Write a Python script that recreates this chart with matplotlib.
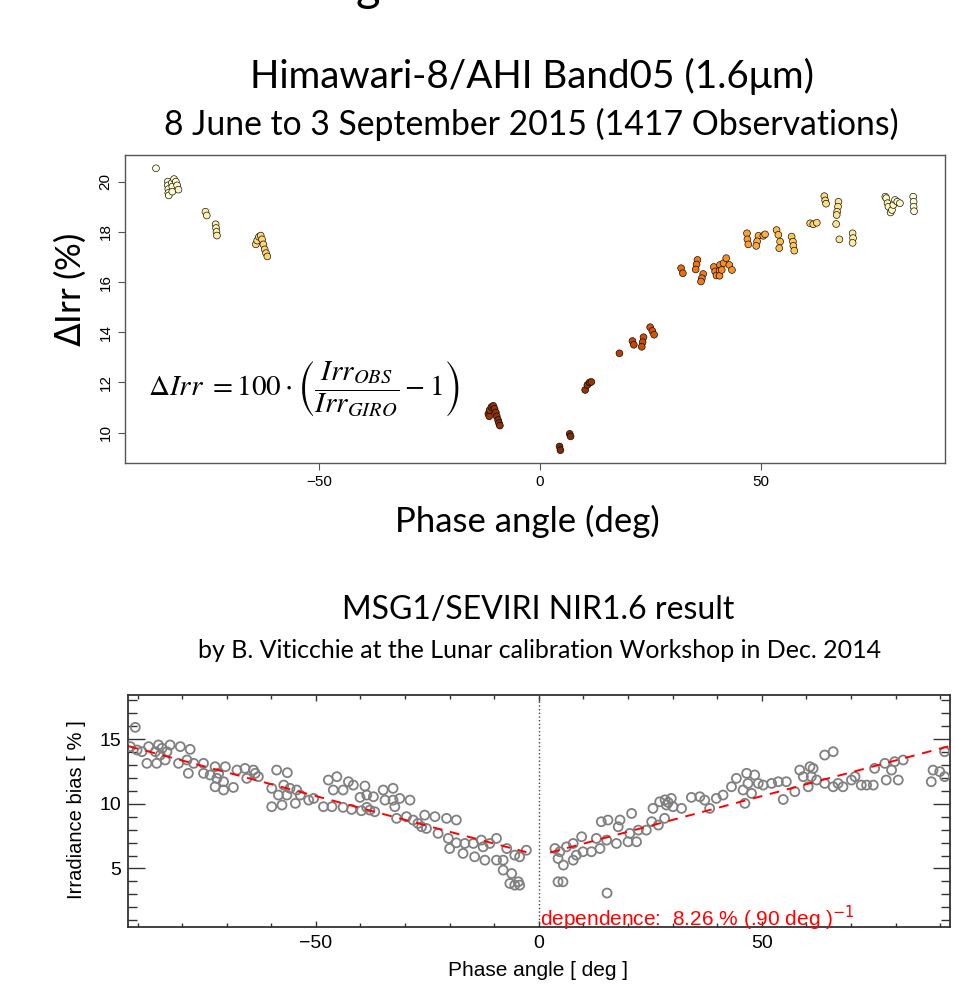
import numpy as np
import matplotlib
matplotlib.use("Agg")
import matplotlib.pyplot as plt
from matplotlib.ticker import MultipleLocator, FixedLocator

# ---- top panel: Himawari-8/AHI band05, phase angle vs delta irradiance ----
top_phase = [
    -86.9,
    -84.2, -84.2, -84.1, -84.1, -84.0,
    -83.3, -83.2, -83.2,
    -82.8, -82.4, -82.1, -81.8,
    -75.7, -75.4,
    -73.4, -73.3, -73.2, -73.1,
    -64.3, -64.0, -63.6, -63.2, -62.9, -62.6, -62.3, -62.0, -61.7,
    -11.7, -11.5, -11.4, -11.0, -10.6, -10.3, -10.0, -9.8, -9.5, -9.3, -9.1,
    4.4, 4.6, 6.7, 6.9,
    10.2, 10.7, 11.2, 11.6,
    17.95,
    20.9, 21.2,
    23.4, 23.2, 23.0,
    24.9, 25.4, 25.8,
    31.9, 32.3,
    35.6, 35.4, 35.2,
    36.9, 36.6, 36.4,
    39.3, 39.6, 39.9, 40.7, 40.6, 40.6, 41.1, 41.5, 42.1, 42.8, 43.4,
    46.8, 46.9, 47.1,
    49.4, 49.1, 48.9,
    50.5, 50.9,
    53.5, 53.9, 54.3, 54.1,
    56.9, 57.2, 57.3, 57.5,
    61.1, 61.8, 62.6,
    64.3, 64.5, 64.7,
    67.5, 67.4, 67.2, 67.1,
    66.97, 67.7,
    70.7, 70.8, 70.7,
    78.1, 78.3, 78.6, 78.8, 79.3, 79.6, 79.9, 80.3, 80.8, 81.4,
    84.4, 84.5, 84.5, 84.6,
]
top_dirr = [
    20.53,
    20.0, 19.85, 19.7, 19.55, 19.45,
    19.95, 19.8, 19.6,
    20.1, 20.0, 19.85, 19.68,
    18.8, 18.65,
    18.3, 18.15, 18.0, 17.85,
    17.5, 17.65, 17.8, 17.85, 17.7, 17.5, 17.3, 17.15, 17.02,
    10.75, 10.65, 10.9, 11.02, 11.07, 10.95, 10.8, 10.65, 10.5, 10.38, 10.28,
    9.45, 9.3, 9.95, 9.85,
    11.7, 11.9, 12.0, 12.02,
    13.16,
    13.65, 13.5,
    13.8, 13.6, 13.42,
    14.2, 14.05, 13.9,
    16.55, 16.35,
    16.88, 16.7, 16.5,
    16.32, 16.15, 16.02,
    16.6, 16.42, 16.26, 16.68, 16.45, 16.25, 16.48, 16.75, 16.95, 16.68, 16.48,
    17.94, 17.7, 17.5,
    17.84, 17.62, 17.44,
    17.84, 17.9,
    18.07, 17.88, 17.61, 17.35,
    17.81, 17.61, 17.44, 17.25,
    18.34, 18.3, 18.36,
    19.42, 19.25, 19.12,
    19.2, 19.0, 18.8, 18.67,
    18.31, 17.7,
    17.94, 17.75, 17.56,
    19.4, 19.34, 19.14, 19.0, 18.77, 18.87, 19.07, 19.27, 19.2, 19.14,
    19.4, 19.2, 19.0, 18.82,
]

# ---- bottom panel: MSG1/SEVIRI NIR1.6 irradiance bias ----
bot_phase = [
    -90.5, -91.6, -90.1, -89.0, -87.5, -87.9, -86.0, -85.3, -84.5, -84.9,
    -85.7, -83.8, -83.4, -82.7, -80.4, -78.2, -80.8, -78.9, -78.6, -77.4,
    -75.2, -75.2, -72.6, -70.3, -73.7, -72.2, -70.7, -72.6, -70.7, -68.5,
    -71.8, -67.7, -65.9, -65.5, -63.6, -62.9, -64.0, -58.8, -56.4, -59.9,
    -58.4, -57.2, -55.8, -56.5, -54.3, -53.5, -59.9, -57.6, -54.6, -51.6,
    -50.5, -48.3, -46.4, -47.2, -46.1, -45.3, -43.9, -42.7, -41.6, -39.0,
    -40.1, -38.6, -37.1, -34.9, -32.7, -34.5, -32.7, -31.2, -28.9, -32.3,
    -43.9, -42.0, -39.8, -37.9, -36.8, -38.6, -31.9, -29.7, -28.2, -27.1,
    -25.6, -25.2, -26.3, -23.3, -20.7, -18.5, -22.6, -20.3, -18.5, -20.0,
    -16.6, -17.0, -14.7, -12.9, -12.5, -11.0, -9.5, -14.4, -12.1, -9.5,
    -8.0, -7.2, -5.4, -4.3, -2.8, -8.0, -6.1, -6.5, -4.6, -4.3, -5.4,
    4.3, 5.4, 15.3, 3.6, 4.7, 6.2, 7.7, 9.6, 4.3, 5.5,
    7.7, 8.4, 9.9, 11.8, 13.7, 12.9, 15.2, 14.0, 15.5, 18.2,
    20.8, 17.8, 17.4, 20.0, 21.9, 20.4, 22.3, 24.1, 25.3, 26.8,
    28.2, 25.6, 27.1, 28.6, 29.7, 30.1, 32.0, 29.0, 28.3, 34.2,
    36.1, 37.2, 38.3, 39.8, 41.3, 43.2, 44.3, 45.8, 46.2, 46.6,
    46.9, 48.4, 49.2, 47.7, 50.3, 52.2, 53.7, 55.5, 54.8, 57.4,
    58.5, 59.3, 60.8, 61.5, 60.4, 62.3, 61.1, 64.1, 66.0, 64.1,
    66.0, 67.1, 68.2, 70.1, 70.9, 72.3, 73.5, 75.0, 75.3, 77.6,
    79.1, 79.8, 81.7, 77.9, 80.6, 88.0, 88.4, 89.9, 91.0, 91.0,
]
bot_bias = [
    15.9, 14.41, 14.15, 14.02, 14.41, 13.12, 14.02, 14.54, 14.28, 13.76,
    13.12, 13.38, 14.02, 14.54, 14.41, 14.2, 13.12, 13.38, 12.35, 13.12,
    13.12, 12.35, 12.86, 12.86, 12.22, 11.96, 11.7, 11.31, 11.06, 11.26,
    12.35, 12.6, 12.73, 11.96, 12.35, 12.09, 12.6, 12.6, 12.4, 11.19,
    10.67, 11.44, 11.19, 10.67, 11.06, 10.67, 9.77, 9.9, 10.03, 10.28,
    10.41, 9.77, 9.77, 11.83, 11.06, 12.09, 11.06, 11.7, 11.44, 11.37,
    10.49, 10.67, 10.54, 11.06, 11.19, 10.28, 10.28, 10.41, 10.28, 9.77,
    9.72, 9.56, 9.46, 9.51, 9.38, 9.72, 8.87, 9.0, 8.74, 8.48,
    9.12, 8.09, 8.22, 9.0, 8.87, 8.74, 7.71, 7.32, 6.98, 6.54,
    6.93, 6.16, 6.93, 7.19, 6.67, 6.93, 7.32, 5.9, 5.64, 5.64,
    5.64, 6.54, 6.03, 5.9, 6.41, 4.87, 4.61, 3.84, 3.97, 3.71, 3.71,
    3.97, 3.97, 3.1, 6.54, 6.29, 6.67, 6.93, 7.45, 5.77, 5.26,
    5.64, 6.03, 6.29, 6.29, 6.54, 7.32, 7.19, 8.61, 8.74, 8.74,
    9.25, 8.22, 6.93, 7.06, 7.06, 7.71, 7.96, 7.96, 8.61, 8.35,
    8.87, 9.64, 10.15, 9.9, 10.41, 9.77, 9.64, 10.1, 10.3, 10.49,
    10.54, 10.28, 9.64, 10.41, 10.67, 11.31, 11.96, 11.06, 10.03, 12.35,
    11.57, 12.22, 11.57, 10.8, 11.44, 11.57, 11.7, 11.7, 10.33, 10.93,
    12.6, 12.09, 12.86, 12.73, 11.31, 11.83, 12.09, 13.76, 14.02, 11.57,
    11.31, 11.57, 11.31, 11.83, 12.09, 11.44, 11.44, 11.44, 12.73, 13.12,
    12.6, 13.25, 13.38, 11.83, 11.83, 11.7, 12.6, 12.48, 12.09, 14.02,
]

# linear fit quoted in the figure: 8.26 % per 90 deg
fit_intercept = 6.0
fit_slope = 8.26 / 90.0
fit_left = [-92.0, -2.8]
fit_right = [2.5, 92.0]

W, H = 955, 992
TITLE_FONT = ["Lato", "DejaVu Sans"]
HELV = ["Liberation Sans", "DejaVu Sans"]

fig = plt.figure(figsize=(W / 100, H / 100), dpi=100)
fig.patch.set_facecolor("white")


def ftext(px, py, s, **kw):
    return fig.text(px / W, 1 - py / H, s, **kw)


# bottom of a letter from the slide heading, cut off by the image edge
ftext(368, 1, "g", fontsize=34, family=TITLE_FONT, ha="center", va="baseline")

ftext(532, 76, "Himawari-8/AHI Band05 (1.6\u03bcm)", fontsize=27.8,
      family=TITLE_FONT, ha="center", va="center")
ftext(531, 124, "8 June to 3 September 2015 (1417 Observations)", fontsize=24.3,
      family=TITLE_FONT, ha="center", va="center")

# ---- top axes ----
ax1 = fig.add_axes([125 / W, 1 - 463 / H, 820 / W, 308 / H])
tp = np.array(top_phase)
ax1.scatter(tp, top_dirr, c=np.abs(tp), cmap="YlOrBr_r", vmin=0, vmax=90,
            s=24, edgecolors="black", linewidths=0.45, zorder=3)
ax1.set_xlim(-93.9, 91.6)
ax1.set_ylim(8.79, 21.06)
ax1.xaxis.set_major_locator(FixedLocator([-50, 0, 50]))
ax1.yaxis.set_major_locator(FixedLocator([10, 12, 14, 16, 18, 20]))
ax1.tick_params(direction="out", length=5, width=0.8, color="#555555",
                labelsize=11, pad=4)
ax1.tick_params(axis="y", labelrotation=90)
for lab in ax1.get_xticklabels() + ax1.get_yticklabels():
    lab.set_family(HELV)
for lab in ax1.get_yticklabels():
    lab.set_va("center")
for sp in ax1.spines.values():
    sp.set_color("#555555")
    sp.set_linewidth(1.0)

ax1.text(-88.7, 11.7,
         r"$\Delta Irr\ = 100\cdot\left(\dfrac{Irr_{OBS}}{Irr_{GIRO}}-1\right)$",
         fontsize=21, math_fontfamily="stix", ha="left", va="center")

ftext(527, 521, "Phase angle (deg)", fontsize=25, family=TITLE_FONT,
      ha="center", va="center")
ftext(70, 290, r"$\mathit{\Delta}$Irr (%)", fontsize=25, family=TITLE_FONT,
      rotation=90, ha="center", va="center")

ftext(538, 610, "MSG1/SEVIRI NIR1.6 result", fontsize=23,
      family=TITLE_FONT, ha="center", va="center")
ftext(540, 650, "by B. Viticchie at the Lunar calibration Workshop in Dec. 2014",
      fontsize=18, family=TITLE_FONT, ha="center", va="center")

# ---- bottom axes ----
ax2 = fig.add_axes([127.7 / W, 1 - 926.7 / H, 822.3 / W, 231.7 / H])
ax2.scatter(bot_phase, bot_bias, s=42, facecolors="none",
            edgecolors="#808080", linewidths=1.3, zorder=3)
fx = np.array(fit_left)
ax2.plot(fx, fit_intercept + fit_slope * np.abs(fx), color="red",
         ls=(0, (5, 4)), lw=1.4, zorder=4)
fx = np.array(fit_right)
ax2.plot(fx, fit_intercept + fit_slope * np.abs(fx), color="red",
         ls=(0, (5, 4)), lw=1.4, zorder=4)
ax2.axvline(0, color="#444444", ls=":", lw=1.0, zorder=2)

ax2.set_xlim(-92.2, 92.2)
ax2.set_ylim(0.5, 18.4)
ax2.xaxis.set_major_locator(FixedLocator([-50, 0, 50]))
ax2.xaxis.set_minor_locator(MultipleLocator(10))
ax2.yaxis.set_major_locator(FixedLocator([5, 10, 15]))
ax2.yaxis.set_minor_locator(MultipleLocator(1))
ax2.tick_params(which="both", direction="in", top=True, right=True,
                color="#333333", width=1.0)
ax2.tick_params(axis="x", which="major", length=4, labelsize=14, pad=6)
ax2.tick_params(axis="x", which="minor", length=3)
ax2.tick_params(axis="y", which="major", length=12, labelsize=14, pad=5)
ax2.tick_params(axis="y", which="minor", length=6.5)
for lab in ax2.get_xticklabels() + ax2.get_yticklabels():
    lab.set_family(HELV)
for sp in ax2.spines.values():
    sp.set_color("#333333")
    sp.set_linewidth(1.3)

ax2.text(0.3, 0.55, "dependence:  8.26 % (.90 deg )$^{-1}$", color="red",
         fontsize=15, family=HELV, ha="left", va="baseline", zorder=5)

ftext(538, 970, "Phase angle [ deg ]", fontsize=15, family=HELV,
      ha="center", va="center")
ftext(76, 810, "Irradiance bias [ % ]", fontsize=14.5, family=HELV,
      rotation=90, ha="center", va="center")

fig.savefig("out.png", dpi=100)
